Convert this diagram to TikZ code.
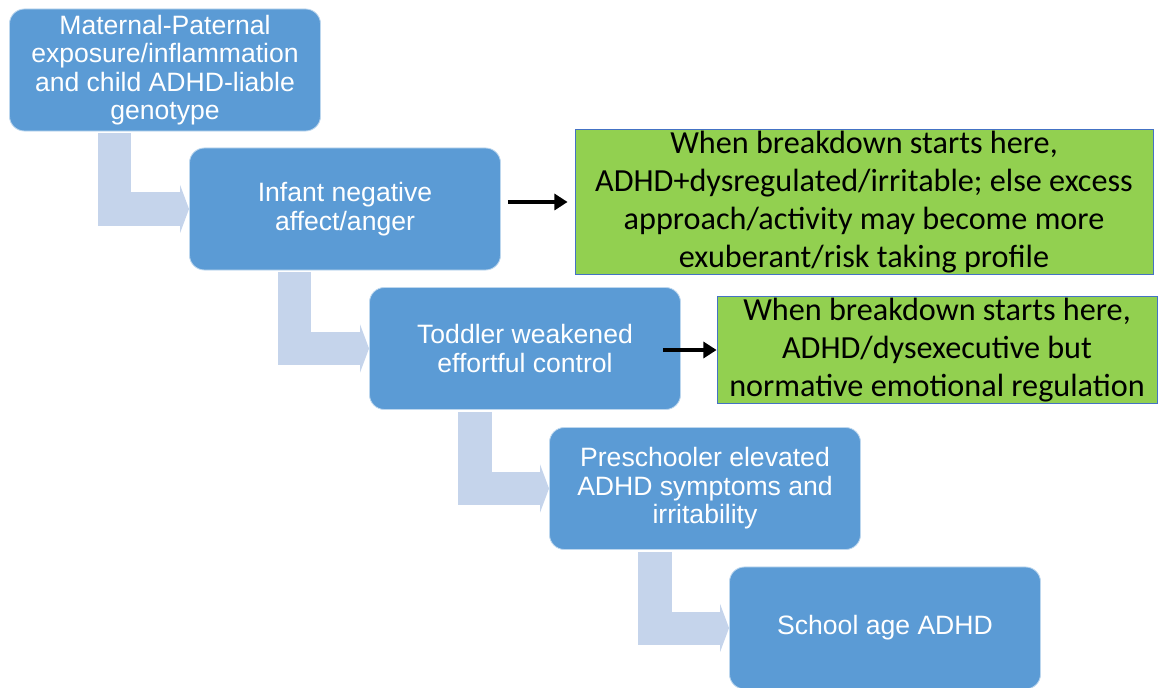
\documentclass[tikz,border=0pt]{standalone}
\usepackage{fontspec}
\setmainfont{Liberation Sans}
\newfontfamily\notefont{Carlito}
\usetikzlibrary{arrows.meta}
\definecolor{stageblue}{HTML}{5B9BD5}
\definecolor{bendblue}{HTML}{C5D4EB}
\definecolor{notegreen}{HTML}{92D050}
\definecolor{noteedge}{HTML}{4472C4}
\begin{document}
\begin{tikzpicture}[x=0.025cm,y=-0.025cm,
		stage/.style={fill=stageblue, draw=white!60!stageblue, line width=0.6pt, rounded corners=0.375cm,
			minimum width=7.775cm, minimum height=3.05cm, align=center, text=white,
			font=\fontsize{18.9pt}{20.2pt}\selectfont},
		note/.style={fill=notegreen, draw=noteedge, line width=0.5pt, align=center, inner sep=1pt,
			font=\notefont\fontsize{22.9pt}{27pt}\selectfont},
		stepbend/.style={draw=bendblue, line width=0.825cm, line join=miter,
			-{Triangle[length=0.225cm, width=1.2cm]}},
		link/.style={draw=black, line width=0.11cm, -{Triangle[length=0.33cm, width=0.4cm]}}]
		\useasboundingbox (0,0) rectangle (1161,688);
		% stages
		\node[stage] (mat) at (165,70) {Maternal-Paternal\\exposure/inflammation\\and child ADHD-liable\\genotype};
		\node[stage] (inf) at (345,209) {Infant negative\\affect/anger};
		\node[stage] (tod) at (525,348.5) {Toddler weakened\\effortful control};
		\node[stage] (pre) at (705,488.5) {Preschooler elevated\\ADHD symptoms and\\irritability};
		\node[stage] (sch) at (885,628) {School age ADHD};
		% notes
		\node[note, minimum width=14.45cm, minimum height=3.5cm] (brk1) at (864,202)
			{When breakdown starts here,\\ADHD+dysregulated/irritable; else excess\\approach/activity may become more\\exuberant/risk taking profile};
		\node[note, minimum width=11cm, minimum height=2.65cm] (brk2) at (937,350)
			{When breakdown starts here,\\ADHD/dysexecutive but\\normative emotional regulation};
		% bent arrows
		\draw[stepbend] ([xshift=-1.25cm, yshift=-0.05cm]mat.south) |- (inf.west);
		\draw[stepbend] ([xshift=-1.25cm, yshift=-0.05cm]inf.south) |- (tod.west);
		\draw[stepbend] ([xshift=-1.25cm, yshift=-0.05cm]tod.south) |- (pre.west);
		\draw[stepbend] ([xshift=-1.25cm, yshift=-0.05cm]pre.south) |- (sch.west);
		% links to notes
		\draw[link] ([xshift=0.175cm]inf.east |- brk1.west) -- ([xshift=-0.175cm]brk1.west);
		\draw[link] ([xshift=-0.45cm]tod.east |- brk2.west) -- (brk2.west);
	\end{tikzpicture}
\end{document}
